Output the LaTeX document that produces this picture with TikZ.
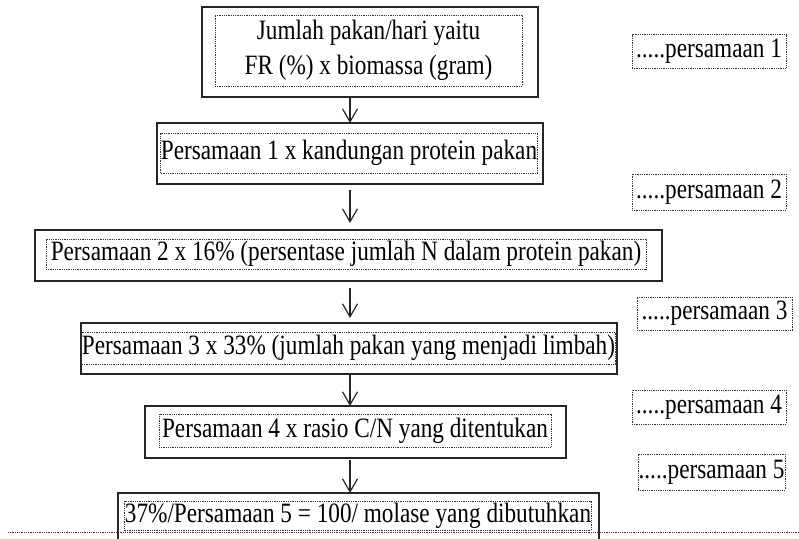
\documentclass[tikz,border=0pt]{standalone}
\usepackage{fontspec}
\setmainfont[FakeStretch=0.83]{Liberation Serif}
\usetikzlibrary{arrows.meta}
\begin{document}
\begin{tikzpicture}[x=1pt,y=-1pt,
    outerbox/.style={draw=black!85,line width=1.6pt,inner sep=0pt,outer sep=0pt},
    innerbox/.style={draw=black!80,line width=1pt,dash pattern=on 1pt off 0.8pt,inner sep=0pt,align=center,
        font=\fontsize{28}{35}\selectfont},
    eqlabel/.style={innerbox,minimum width=154pt,minimum height=34pt},
    flow/.style={draw=black!85,line width=1.2pt,-{Straight Barb[length=13pt,width=15pt,line width=1.2pt]}}]
    \useasboundingbox (0,0) rectangle (799,538);
    \coordinate (axis) at (350,0);

    \node[outerbox,minimum width=336pt,minimum height=90pt] (B1) at (370,52) {};
    \node[innerbox,minimum width=307pt,minimum height=71pt] (T1) at (368.5,50.5) {Jumlah pakan/hari yaitu\\FR (\%) x biomassa (gram)};
    \node[outerbox,minimum width=386pt,minimum height=61pt] (B2) at (350,153.5) {};
    \node[innerbox,minimum width=356pt,minimum height=40pt] (T2) at (349,153) {Persamaan 1 x kandungan protein pakan};
    \node[outerbox,minimum width=627pt,minimum height=51pt] (B3) at (348.5,255.5) {};
    \node[innerbox,minimum width=600pt,minimum height=30pt] (T3) at (346,254) {Persamaan 2 x 16\% (persentase jumlah N dalam protein pakan)};
    \node[outerbox,minimum width=536pt,minimum height=51pt] (B4) at (349,348.5) {};
    \node[innerbox,minimum width=511pt,minimum height=32pt] (T4) at (348.5,348) {Persamaan 3 x 33\% (jumlah pakan yang menjadi limbah)};
    \node[outerbox,minimum width=421pt,minimum height=52pt] (B5) at (355.5,432) {};
    \node[innerbox,minimum width=392pt,minimum height=33pt] (T5) at (355,430.5) {Persamaan 4 x rasio C/N yang ditentukan};
    \node[outerbox,minimum width=481pt,minimum height=70pt] (B6) at (358.5,528) {};
    \node[innerbox,minimum width=452pt,minimum height=29pt] (T6) at (358,515.5) {37\%/Persamaan 5 = 100/ molase yang dibutuhkan};

    \node[eqlabel] (L1) at (709,51.5) {.....persamaan 1};
    \node[eqlabel,minimum height=36pt] (L2) at (709,192) {.....persamaan 2};
    \node[eqlabel,minimum width=155pt,minimum height=33pt] (L3) at (714.5,313.5) {.....persamaan 3};
    \node[eqlabel] (L4) at (709,407) {.....persamaan 4};
    \node[eqlabel,minimum width=147pt,minimum height=36pt] (L5) at (711.5,472) {.....persamaan 5};

    \coordinate (ruleL) at (8,532); \coordinate (ruleR) at (799,532);
    \draw[black!80,line width=1pt,dash pattern=on 1pt off 0.8pt] (ruleL) -- (ruleR);

    \draw[flow] (B1.south -| axis) -- (B2.north -| axis);
    \draw[flow,shorten <=6pt,shorten >=7pt] (B2.south -| axis) -- (B3.north -| axis);
    \draw[flow,shorten <=7pt,shorten >=5pt] (B3.south -| axis) -- (B4.north -| axis);
    \draw[flow] (B4.south -| axis) -- (B5.north -| axis);
    \draw[flow,shorten <=2pt] (B5.south -| axis) -- (B6.north -| axis);
\end{tikzpicture}
\end{document}
